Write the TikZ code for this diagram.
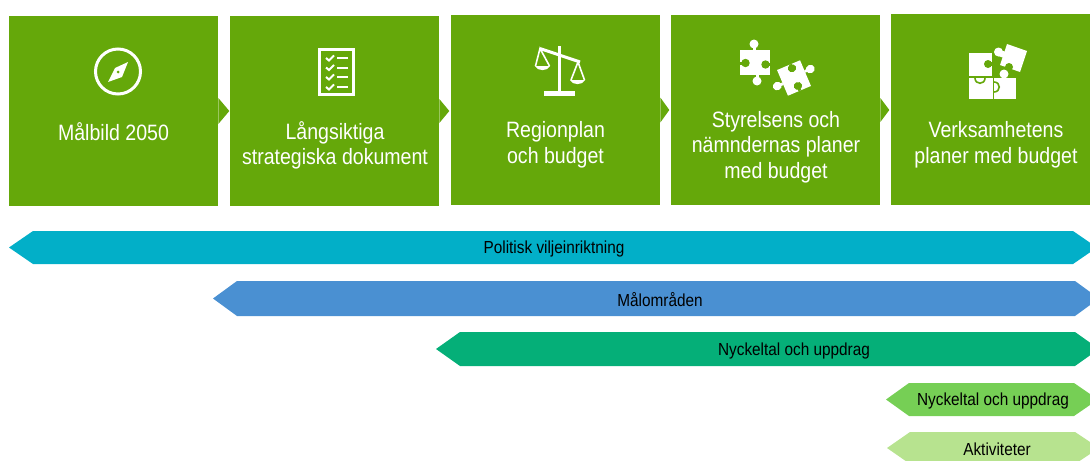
\documentclass[tikz,border=0pt]{standalone}
\usepackage{fontspec}
\setmainfont[FakeStretch=.88]{Liberation Sans}
\usetikzlibrary{calc}
\definecolor{boxgreen}{RGB}{101,168,10}
\definecolor{bandteal}{RGB}{2,175,200}
\definecolor{bandblue}{RGB}{74,144,210}
\definecolor{banddark}{RGB}{5,175,120}
\definecolor{bandmid}{RGB}{118,207,85}
\definecolor{bandlight}{RGB}{183,227,143}
\tikzset{
  stepbox/.style={rectangle,fill=boxgreen,inner sep=0,minimum height=4.75cm},
  steptext/.style={align=center,text=white,inner sep=0,font=\fontsize{15.8}{18.2}\selectfont},
  bandtext/.style={inner sep=0,text=black,font=\fontsize{12.4}{14}\selectfont},
  icon/.style={draw=white,line width=.075cm},
  puzzlepiece/.pic={
    \fill[white] (-15,-12.5) rectangle (15,12.5);
    \fill[white] (-1,-18.5) circle (4.5);
    \fill[white] (-2.5,-12.5) rectangle (.5,-17);
    \fill[white] (2,18.5) circle (4.5);
    \fill[white] (.5,12.5) rectangle (3.5,17);
    \fill[boxgreen] (-9.5,.5) circle (4.2);
    \fill[boxgreen] (-15,-1) rectangle (-9.5,2);
    \fill[boxgreen] (10.5,2) circle (4.2);
    \fill[boxgreen] (10.5,.5) rectangle (15,3.5);
  }
}
\begin{document}
\begin{tikzpicture}[x=.025cm,y=-.025cm]
\useasboundingbox (0,0) rectangle (1090,460);
\clip (0,0) rectangle (1090,460);

\node (malbild) at (113.5,111) [stepbox,minimum width=5.225cm] {};
\node (langsiktiga) at (334.5,111) [stepbox,minimum width=5.225cm] {};
\node (regionplan) at (555.5,110) [stepbox,minimum width=5.225cm] {};
\node (styrelsen) at (775.5,110) [stepbox,minimum width=5.225cm] {};
\node (verksamhet) at (990.5,109.5) [stepbox,minimum width=4.975cm,minimum height=4.775cm] {};

\fill[boxgreen] ($(malbild.east)+(0,-13)$) -- ++(11,13) -- ++(-11,13) -- cycle;
\fill[boxgreen] ($(langsiktiga.east)+(0,-12)$) -- ++(10,12) -- ++(-10,12) -- cycle;
\fill[boxgreen] ($(regionplan.east)+(0,-12.5)$) -- ++(9,12.5) -- ++(-9,12.5) -- cycle;
\fill[boxgreen] ($(styrelsen.east)+(0,-12)$) -- ++(9,12) -- ++(-9,12) -- cycle;

\node (malbildtext) at (113.5,132) [steptext] {Målbild 2050};
\node (langsiktigatext) at (335,145.5) [steptext] {Långsiktiga\\strategiska dokument};
\node (regionplantext) at (555.5,145) [steptext] {Regionplan\\och budget};
\node (styrelsentext) at (776,147) [steptext] {Styrelsens och\\nämndernas planer\\med budget};
\node (verksamhettext) at (996,145) [steptext] {Verksamhetens\\planer med budget};

%-----------------------------------------------------
\draw[icon] (118,71.5) circle (22.5);
\fill[white] (128,62) -- (122,77) -- (108,82) -- (115,68) -- cycle;
\fill[boxgreen] (118,72) circle (1.5);
%-----------------------------------------------------
\draw[icon] (319.5,49.5) rectangle (353.5,94.5);
\foreach \y in {58,67.5,77,87} {
  \draw[white,line width=.05cm] (326,\y) -- (329,{\y+2.5}) -- (334,{\y-2.5});
  \draw[white,line width=.05cm] (337,\y) -- (348,\y);
}
%-----------------------------------------------------
\fill[white] (544,91) rectangle (575,96);
\draw[white,line width=.075cm] (559.5,46) -- (559.5,92);
\draw[white,line width=.075cm] (540,48.5) -- (580,62);
\draw[white,line width=.04cm] (535.5,66) -- (540,48.5) -- (549.5,66);
\draw[white,line width=.04cm] (571,80) -- (578,62) -- (584.5,80);
\fill[white] (535,66) .. controls (537,71.5) and (548,71.5) .. (550,66) -- cycle;
\fill[white] (570,80) .. controls (572,85.5) and (583,85.5) .. (585,80) -- cycle;
%-----------------------------------------------------
\path (755,62.5) pic {puzzlepiece};
\path (794,78) pic[rotate=113,xscale=.93] {puzzlepiece};
%-----------------------------------------------------
\fill[white] (969,53) rectangle (992,76);
\fill[boxgreen] (988,64) circle (4);
\fill[boxgreen] (988,62) rectangle (992,66);
\fill[white] (969,78) rectangle (992.5,99);
\fill[white] (994,78) rectangle (1016,99);
\fill[white] (1004,74) circle (4.5);
\draw[boxgreen,line width=.04cm] (975,78) .. controls (975,85) and (985,85) .. (985,78);
\draw[boxgreen,line width=.04cm] (994,82) .. controls (1001,82) and (1001,92) .. (994,92);
\fill[white] (1007,44) -- (1027,51) -- (1020,72) -- (1000,65) -- cycle;
\fill[white] (998.5,52) circle (4.5);
\fill[white] (1000,50) -- (1006,52) -- (1004,58) -- (998,56) -- cycle;
\fill[boxgreen] (1009,67) circle (4);
%-----------------------------------------------------
\fill[bandteal] (9,247.5) -- (33,231) -- (1073,231) -- (1097,247.5) -- (1073,264) -- (33,264) -- cycle;
\fill[bandblue] (213,298.5) -- (237,281) -- (1075,281) -- (1099,298.5) -- (1075,316) -- (237,316) -- cycle;
\fill[banddark] (436,349) -- (460,332) -- (1075,332) -- (1099,349) -- (1075,366) -- (460,366) -- cycle;
\fill[bandmid] (886,399.5) -- (909,383) -- (1074,383) -- (1098,399.5) -- (1074,416) -- (909,416) -- cycle;
\fill[bandlight] (887,448) -- (910,432) -- (1075,432) -- (1099,448) -- (1075,464) -- (910,464) -- cycle;

\node (politisk) at (554,249) [bandtext] {Politisk viljeinriktning};
\node (malomraden) at (660,300) [bandtext] {Målområden};
\node (nyckeltal) at (794,351) [bandtext] {Nyckeltal och uppdrag};
\node (nyckeltalkort) at (993,401) [bandtext] {Nyckeltal och uppdrag};
\node (aktiviteter) at (997,449) [bandtext] {Aktiviteter};

\end{tikzpicture}
\end{document}
